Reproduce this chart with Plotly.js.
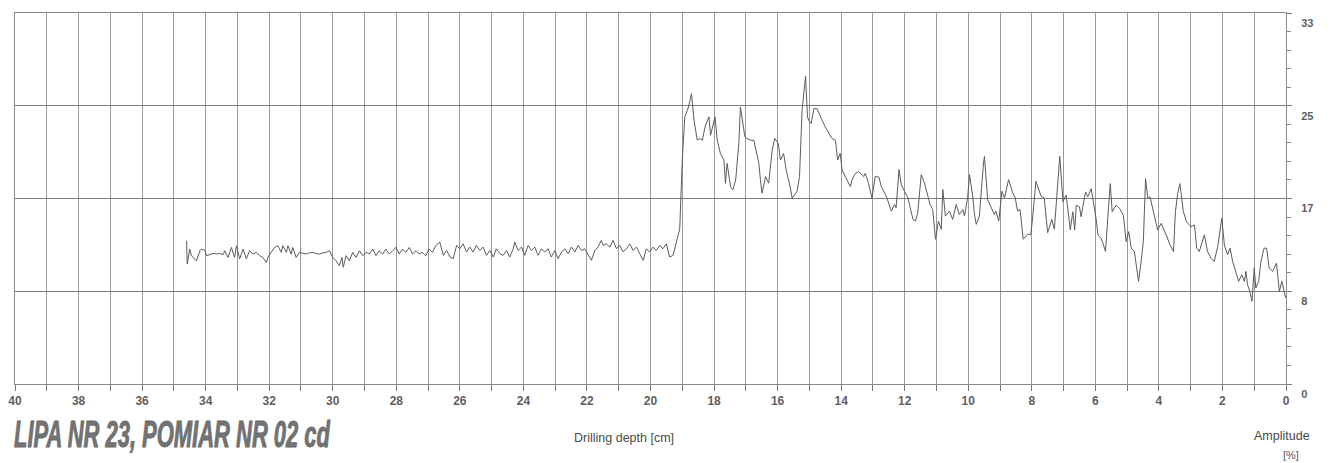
<!DOCTYPE html>
<html>
<head>
<meta charset="utf-8">
<script src="https://cdn.plot.ly/plotly-3.0.1.min.js"></script>
<style>
  html, body { margin: 0; padding: 0; background: #ffffff; }
  #chart { width: 1340px; height: 463px; }
</style>
</head>
<body>
<div id="chart"></div>
<script>
// Resistance drilling profile: amplitude [%] against drilling depth [cm]
const depthCm = [
  34.60, 34.58, 34.50, 34.45, 34.29, 34.18, 34.13, 34.03, 33.97, 33.87,
  33.77, 33.66, 33.56, 33.45, 33.40, 33.29, 33.19, 33.09, 33.03, 32.93,
  32.82, 32.72, 32.62, 32.51, 32.41, 32.30, 32.20, 32.09, 32.04, 31.94,
  31.83, 31.73, 31.62, 31.57, 31.46, 31.41, 31.31, 31.26, 31.15, 31.05,
  30.94, 30.84, 30.74, 30.63, 30.52, 30.42, 30.31, 30.21, 30.10, 30.00,
  29.90, 29.79, 29.71, 29.67, 29.58, 29.48, 29.37, 29.27, 29.16, 29.06,
  28.95, 28.85, 28.74, 28.64, 28.54, 28.43, 28.33, 28.22, 28.12, 28.01,
  27.91, 27.80, 27.70, 27.59, 27.49, 27.38, 27.28, 27.18, 27.07, 26.97,
  26.86, 26.76,
  26.63, 26.52, 26.42, 26.31, 26.21, 26.10, 26.00, 25.90, 25.79, 25.69,
  25.58, 25.48, 25.37, 25.27, 25.16, 25.06, 24.95, 24.85, 24.74, 24.64,
  24.53, 24.43, 24.32, 24.27, 24.17, 24.06, 23.96, 23.85, 23.75, 23.64,
  23.54, 23.43, 23.33, 23.22, 23.12, 23.01, 22.91, 22.80, 22.70, 22.59,
  22.49, 22.38, 22.28, 22.17, 22.07, 21.96, 21.86, 21.75, 21.65, 21.55,
  21.49, 21.39, 21.28, 21.18, 21.07, 20.97, 20.86, 20.76, 20.65, 20.55,
  20.44, 20.34, 20.23, 20.13, 20.03, 19.92, 19.82, 19.71, 19.61, 19.50,
  19.40, 19.29, 19.19, 19.08,
  19.00, 18.92, 18.84, 18.79, 18.71, 18.63, 18.53, 18.45, 18.37, 18.27,
  18.16, 18.11, 17.97, 17.90, 17.80, 17.69, 17.64, 17.59, 17.48, 17.41,
  17.32, 17.22, 17.17, 17.03, 16.96, 16.85, 16.75, 16.64, 16.59, 16.54,
  16.49, 16.38, 16.28, 16.17, 16.09, 15.98, 15.91, 15.81, 15.73, 15.63,
  15.54, 15.39, 15.31, 15.23, 15.12, 15.06, 15.02, 14.94, 14.86, 14.76,
  14.70, 14.60, 14.50, 14.39, 14.29, 14.18, 14.11, 14.03, 13.97, 13.87,
  13.71, 13.66, 13.55, 13.45, 13.29, 13.24, 13.14, 13.03, 12.93,
  12.81, 12.74, 12.58, 12.53, 12.42, 12.32, 12.27, 12.18, 12.11, 12.01,
  11.90, 11.74, 11.66, 11.59, 11.48, 11.38, 11.32, 11.20, 11.12, 11.03,
  10.94, 10.85, 10.80, 10.72, 10.59, 10.49, 10.38, 10.28, 10.17, 10.12,
  10.02, 9.96, 9.86, 9.81, 9.75, 9.65, 9.52, 9.49, 9.39, 9.28,
  9.18, 9.13, 9.04, 8.94, 8.86, 8.73, 8.60, 8.52, 8.45, 8.37,
  8.27, 8.13, 8.03, 7.97, 7.87, 7.71, 7.61, 7.50, 7.37, 7.29,
  7.19, 7.12,
  7.02, 6.92, 6.83, 6.79, 6.71, 6.65, 6.60, 6.50, 6.45, 6.31,
  6.24, 6.13, 6.08, 5.97, 5.92, 5.82, 5.76, 5.68, 5.61, 5.53,
  5.47, 5.35, 5.24, 5.12, 5.03, 4.95, 4.87, 4.77, 4.70, 4.64,
  4.56, 4.49, 4.42, 4.35, 4.28, 4.14, 4.04, 3.93, 3.86, 3.77,
  3.65, 3.54, 3.48, 3.41, 3.34, 3.23, 3.13, 2.99, 2.88, 2.81,
  2.73, 2.57, 2.47, 2.36, 2.26, 2.15, 2.02, 1.94, 1.84, 1.76,
  1.68, 1.58, 1.49, 1.39, 1.31, 1.26, 1.21, 1.14, 1.07, 1.00,
  0.95, 0.86, 0.79, 0.69, 0.61, 0.53, 0.42, 0.30, 0.21, 0.13,
  0.06, 0.01
];

const amplitudePct = [
  12.74, 10.67, 12.00, 11.41, 10.97, 11.85, 12.00, 11.91, 11.41, 11.50,
  11.62, 11.56, 11.62, 11.50, 11.85, 11.26, 12.15, 11.26, 12.30, 11.12,
  12.00, 11.12, 11.85, 11.56, 11.71, 11.41, 11.26, 10.82, 11.26, 11.71,
  12.15, 12.30, 11.71, 12.30, 11.71, 12.30, 11.56, 12.15, 11.26, 11.71,
  11.62, 11.56, 11.66, 11.71, 11.60, 11.56, 11.66, 11.71, 11.85, 11.26,
  10.97, 10.53, 11.26, 10.38, 11.41, 10.97, 11.71, 11.26, 11.85, 11.41,
  11.71, 11.56, 12.00, 11.41, 11.85, 11.56, 12.00, 11.56, 11.85, 12.15,
  11.56, 12.00, 11.71, 12.15, 11.56, 11.85, 11.56, 11.71, 11.41, 12.00,
  11.71, 12.30,
  12.62, 11.44, 11.88, 11.29, 11.15, 12.33, 12.03, 12.47, 11.74, 12.18,
  11.74, 12.33, 11.88, 12.18, 11.44, 11.88, 11.29, 12.03, 11.59, 11.44,
  11.88, 11.29, 12.03, 12.62, 11.88, 12.18, 11.44, 12.33, 11.88, 12.18,
  11.44, 12.03, 11.74, 12.03, 11.29, 11.88, 11.15, 11.74, 12.03, 11.59,
  12.18, 11.74, 12.33, 11.88, 12.03, 11.44, 11.00, 11.88, 12.18, 12.77,
  12.33, 12.47, 12.18, 12.77, 12.03, 12.33, 11.74, 12.03, 12.47, 11.88,
  12.18, 11.59, 11.00, 12.03, 11.74, 12.18, 11.88, 12.33, 12.03, 12.47,
  11.29, 11.44, 12.62, 13.80,
  19.92, 23.76, 24.35, 24.79, 25.82, 23.46, 21.69, 21.84, 21.69, 23.02,
  23.76, 22.13, 23.76, 21.69, 20.51, 19.92, 17.86, 19.63, 17.56, 17.27,
  18.15, 21.40, 24.64, 21.99, 21.84, 21.69, 21.69, 20.22, 19.63, 18.15,
  16.97, 18.45, 17.86, 20.81, 21.84, 21.40, 19.92, 20.51, 19.04, 17.86,
  16.53, 17.12, 18.45, 24.35, 27.40, 23.76, 23.46, 23.17, 24.49, 24.49,
  24.05, 23.46, 22.87, 22.28, 21.84, 21.69, 19.92, 20.51, 19.04, 18.45,
  17.56, 18.15, 18.74, 18.89, 18.45, 18.74, 17.86, 16.53, 18.45,
  18.40, 17.59, 16.71, 16.26, 15.38, 15.97, 15.67, 19.07, 17.74, 17.15,
  16.56, 14.64, 14.49, 15.23, 18.62, 17.89, 17.30, 15.97, 15.53, 12.87,
  14.49, 13.76, 17.30, 14.94, 15.38, 14.64, 15.97, 15.08, 15.53, 14.94,
  16.56, 18.62, 16.71, 15.23, 14.20, 14.94, 19.66, 20.25, 16.41, 15.67,
  15.08, 15.38, 14.49, 17.15, 16.56, 18.18, 17.00, 16.56, 15.38, 15.53,
  12.87, 13.31, 13.31, 14.94, 18.03, 16.71, 16.56, 13.46, 14.64, 13.76,
  17.15, 20.25,
  16.21, 16.79, 14.73, 13.70, 15.32, 13.70, 15.91, 15.76, 14.88, 17.09,
  16.65, 17.38, 16.50, 14.58, 13.26, 12.96, 12.52, 11.78, 14.73, 17.83,
  15.32, 15.91, 15.62, 15.03, 12.67, 13.55, 12.08, 11.78, 10.31, 9.13,
  10.90, 12.67, 18.27, 16.50, 16.65, 15.03, 13.70, 14.29, 13.85, 13.26,
  12.37, 11.78, 15.32, 16.94, 17.83, 15.32, 14.44, 13.99, 14.14, 12.08,
  11.78, 13.26, 11.78, 11.19, 10.90, 12.22, 14.73, 12.37, 11.49, 12.08,
  10.90, 10.01, 9.13, 9.72, 9.13, 10.01, 8.83, 8.24, 7.36, 10.31,
  8.54, 9.13, 10.90, 12.08, 12.08, 10.31, 10.01, 10.75, 8.24, 9.13,
  8.24, 7.65
];

// Axis ticks
const depthTickVals = [40, 38, 36, 34, 32, 30, 28, 26, 24, 22, 20, 18, 16, 14, 12, 10, 8, 6, 4, 2, 0];
const depthTickText = ['40', '38', '36', '34', '32', '30', '28', '26', '24', '22', '20', '18', '16', '14', '12', '10', '8', '6', '4', '2', '0'];
const ampTickVals = [0, 8.25, 16.5, 24.75, 33];
const ampTickText = ['0', '8', '17', '25', '33'];

const chartTitle = 'LIPA NR 23, POMIAR NR 02 cd';
const depthLabel = 'Drilling depth [cm]';
const ampLabel = 'Amplitude';
const ampUnit = '[%]';

const gridGrey = '#9a9a9a';
const labelFont = { family: 'Liberation Sans, Arial, sans-serif', size: 12, color: '#5e5e5e', weight: 'bold' };

const trace = {
  x: depthCm,
  y: amplitudePct,
  type: 'scatter',
  mode: 'lines',
  line: { color: '#5c5c5c', width: 1 },
  hoverinfo: 'skip'
};

const layout = {
  width: 1340,
  height: 463,
  margin: { l: 15, r: 54, t: 13, b: 79 },
  paper_bgcolor: '#ffffff',
  plot_bgcolor: '#ffffff',
  showlegend: false,
  font: { family: 'Liberation Sans, Arial, sans-serif', color: '#555' },
  xaxis: {
    range: [40, 0],
    autorange: false,
    tickmode: 'array',
    tickvals: depthTickVals,
    ticktext: depthTickText,
    ticks: 'outside',
    ticklen: 6,
    tickcolor: '#777',
    tickfont: labelFont,
    showgrid: true,
    gridcolor: gridGrey,
    gridwidth: 1,
    minor: { dtick: 1, tick0: 0, showgrid: true, gridcolor: gridGrey, gridwidth: 1, ticks: 'outside', ticklen: 6, tickcolor: '#777' },
    showline: true,
    linecolor: '#8a8a8a',
    linewidth: 1,
    mirror: true,
    zeroline: false
  },
  yaxis: {
    side: 'right',
    range: [0, 33],
    autorange: false,
    tickmode: 'array',
    tickvals: ampTickVals,
    ticktext: ampTickText,
    ticks: 'outside',
    ticklen: 5,
    tickcolor: '#777',
    tickfont: { family: 'Liberation Sans, Arial, sans-serif', size: 11, color: '#5e5e5e', weight: 'bold' },
    ticklabelshift: 10,
    ticklabelstandoff: 7,
    showgrid: true,
    gridcolor: '#7c7c7c',
    gridwidth: 1,
    minor: { dtick: 1.65, tick0: 0, showgrid: false, ticks: 'outside', ticklen: 4, tickcolor: '#888' },
    showline: true,
    linecolor: '#8a8a8a',
    linewidth: 1,
    mirror: true,
    zeroline: false
  },
  annotations: [
    {
      text: chartTitle,
      xref: 'paper', yref: 'paper',
      x: -0.0024, y: -0.1348,
      xanchor: 'left', yanchor: 'middle', align: 'left',
      showarrow: false,
      font: { family: 'Liberation Sans, Arial, sans-serif', size: 36, color: '#737373', weight: 'bold', style: 'italic' }
    },
    {
      text: depthLabel,
      xref: 'paper', yref: 'paper',
      x: 0.4795, y: -0.1456,
      xanchor: 'center', yanchor: 'middle',
      showarrow: false,
      font: { family: 'Liberation Sans, Arial, sans-serif', size: 12.5, color: '#4a4a4a' }
    },
    {
      text: ampLabel,
      xref: 'paper', yref: 'paper',
      x: 0.9965, y: -0.1402,
      xanchor: 'center', yanchor: 'middle',
      showarrow: false,
      font: { family: 'Liberation Sans, Arial, sans-serif', size: 12.5, color: '#4a4a4a' }
    },
    {
      text: ampUnit,
      xref: 'paper', yref: 'paper',
      x: 1.0039, y: -0.1914,
      xanchor: 'center', yanchor: 'middle',
      showarrow: false,
      font: { family: 'Liberation Sans, Arial, sans-serif', size: 11, color: '#5a5a5a' }
    }
  ]
};

Plotly.newPlot('chart', [trace], layout, { staticPlot: true, displayModeBar: false }).then(function (gd) {
  // The heading is set in a heavy condensed italic face: squeeze the glyphs
  // horizontally and thicken the strokes with a thin outline of the same grey.
  const texts = gd.querySelectorAll('.annotation-text');
  texts.forEach(function (t) {
    if (t.textContent === chartTitle) {
      t.setAttribute('textLength', '316');
      t.setAttribute('lengthAdjust', 'spacingAndGlyphs');
      t.style.stroke = '#6a6a6a';
      t.style.strokeWidth = '0.9px';
    }
  });
});
</script>
</body>
</html>
